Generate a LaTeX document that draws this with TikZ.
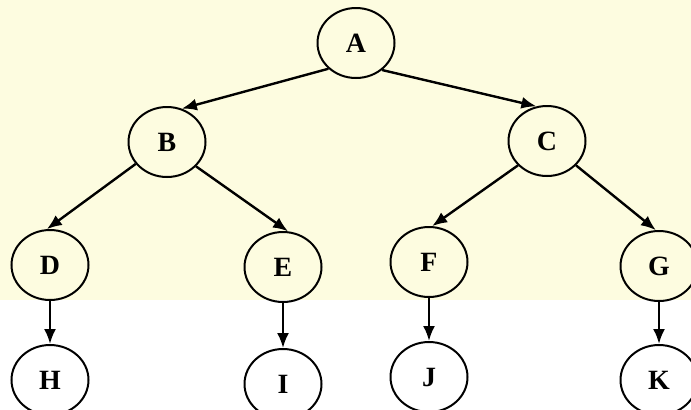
\documentclass[tikz,border=0pt]{standalone}
\usepackage{fontspec}
\setmainfont{Liberation Serif}
\usetikzlibrary{arrows.meta,shapes.geometric}

\definecolor{paper}{RGB}{253,252,224}

\begin{document}
\begin{tikzpicture}[x=1bp,y=-1bp,
    vertex/.style={ellipse,draw=black,line width=2bp,inner sep=0pt,
      minimum width=77bp,minimum height=70bp,
      font=\fontsize{28}{30}\selectfont\bfseries},
    edge/.style={line width=2.4bp,-{Latex[length=15bp,width=12bp]}}]
    \useasboundingbox (0,0) rectangle (691,409);
    \fill[paper] (0,0) rectangle (691,300);

    % root and first level
    \node[vertex] (A) at (356,43) {A};
    \node[vertex] (B) at (167,142) {B};
    \node[vertex] (C) at (547,141) {C};

    % second level
    \node[vertex] (D) at (50,265) {D};
    \node[vertex] (E) at (283,267) {E};
    \node[vertex] (F) at (429,262) {F};
    \node[vertex] (G) at (659,266) {G};

    % leaves
    \node[vertex] (H) at (50,380) {H};
    \node[vertex] (I) at (283,384) {I};
    \node[vertex] (J) at (429,377) {J};
    \node[vertex] (K) at (659,380) {K};

    % edges
    \draw[edge] (A.223) -- (B.66);
    \draw[edge] (A.314) -- (C.107);
    \draw[edge] (B.215) -- (D.95);
    \draw[edge] (B.320) -- (E.82);
    \draw[edge] (C.220) -- (F.85);
    \draw[edge] (C.320) -- (G.95);
    \draw[edge] (D) -- (H);
    \draw[edge] (E) -- (I);
    \draw[edge] (F) -- (J);
    \draw[edge] (G) -- (K);
\end{tikzpicture}
\end{document}
